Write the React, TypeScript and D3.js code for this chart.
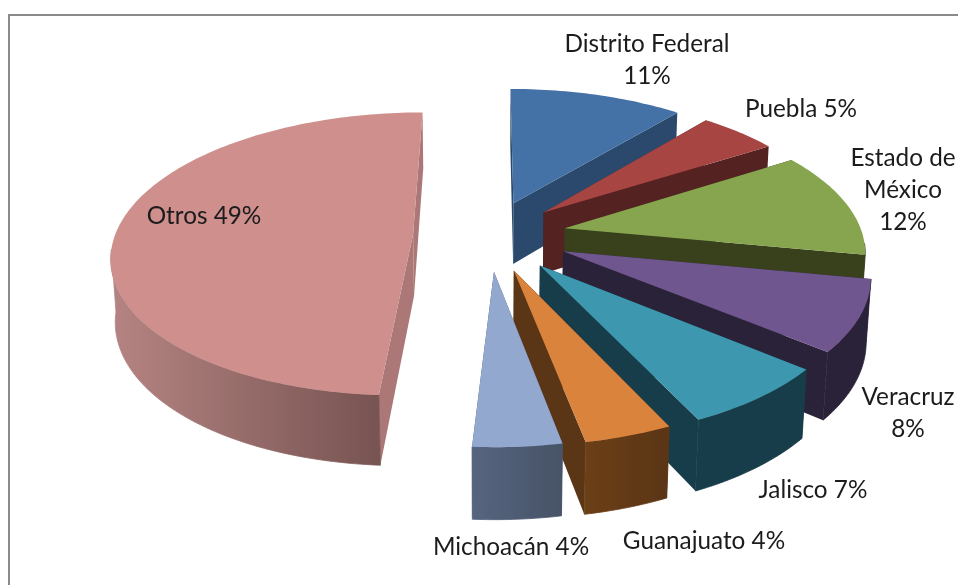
import React from "react";
import * as d3 from "d3";

const categories = ["Distrito Federal", "Puebla", "Estado de México", "Veracruz", "Jalisco", "Guanajuato", "Michoacán", "Otros"];
const values = [11, 5, 12, 8, 7, 4, 4, 49];
const explode = [0.25, 0.25, 0.26, 0.27, 0.27, 0.26, 0.255, 0.255];
const topColors = ["#4472a6", "#a64543", "#87a54f", "#70568e", "#3e97ae", "#d9833d", "#92a8cf", "#ce8f8d"];
const wallColors = ["#2b4a6c", "#552020", "#37401e", "#2c2238", "#193c48", "#5a3516", "#485668", "#ab7877"];
const outerStart = ["#2b4a6c", "#552020", "#37401e", "#2c2238", "#193c48", "#6b3f19", "#566580", "#b58482"];
const outerEnd = ["#2b4a6c", "#552020", "#37401e", "#2c2238", "#193c48", "#5a3516", "#465366", "#775452"];
const labelLines = [["Distrito Federal", "11%"], ["Puebla 5%"], ["Estado de", "México", "12%"], ["Veracruz", "8%"], ["Jalisco 7%"], ["Guanajuato 4%"], ["Michoacán 4%"], ["Otros 49%"]];
const labelX = [647, 801, 903, 908, 813, 704, 511, 204];
const labelY = [43, 108, 157, 396, 489, 540, 546, 215];

const W = 958, H = 585;
const CX = 489, CY = 235, RX = 298, RY = 139, DZ = 63, PERSP = 0.142, PERSP_Z = 0.012;

type P = [number, number];
const project = (x: number, y: number, z: number): P => {
  const s = 1 / (1 + y * PERSP - z * PERSP_Z);
  return [CX + RX * x * s, CY - RY * y * s - DZ * z * s];
};

const pie = d3.pie<number>().sort(null).startAngle(0).endAngle(2 * Math.PI);
const arcs = pie(values);
const line = d3.line<P>();

function slicePaths(a: d3.PieArcDatum<number>, i: number) {
  const mid = (a.startAngle + a.endAngle) / 2;
  const ox = explode[i] * Math.sin(mid), oy = explode[i] * Math.cos(mid);
  const rim = (t: number, z: number) => project(ox + Math.sin(t), oy + Math.cos(t), z);
  const apex = (z: number) => project(ox, oy, z);
  const n = Math.max(4, Math.ceil((a.endAngle - a.startAngle) / 0.02));
  const ts = d3.range(n + 1).map((k) => a.startAngle + (k / n) * (a.endAngle - a.startAngle));
  const front = ts.filter((t) => Math.cos(t) < -0.1);
  const topPts = ts.map((t) => rim(t, 0));
  const top = line([apex(0), ...topPts])! + "Z";
  const outer = front.length > 1
    ? line([...front.map((t) => rim(t, 0)), ...front.slice().reverse().map((t) => rim(t, -1))])! + "Z"
    : "";
  const r1 = line([apex(0), rim(a.startAngle, 0), rim(a.startAngle, -1), apex(-1)])! + "Z";
  const r2 = line([apex(0), rim(a.endAngle, 0), rim(a.endAngle, -1), apex(-1)])! + "Z";
  const xs = front.map((t) => rim(t, 0)[0]);
  return { top, outer, r1, r2, x0: d3.min(xs) ?? 0, x1: d3.max(xs) ?? 1 };
}

const order = [7, 0, 1, 2, 3, 4, 5, 6];

export default function App() {
  const paths = arcs.map(slicePaths);
  return (
    <svg width={W} height={H} viewBox={`0 0 ${W} ${H}`} style={{ position: "fixed", left: 0, top: 0, background: "#fff" }}>
      <defs>
        <filter id="soft" x="-5%" y="-5%" width="110%" height="110%">
          <feGaussianBlur stdDeviation="0.45" />
        </filter>
        {paths.map((p, i) => (
          <linearGradient key={i} id={`g${i}`} gradientUnits="userSpaceOnUse" x1={p.x0} x2={p.x1} y1={0} y2={0}>
            <stop offset="0" stopColor={outerStart[i]} />
            <stop offset="1" stopColor={outerEnd[i]} />
          </linearGradient>
        ))}
      </defs>
      <path d={`M9,${H}V15H${W}`} fill="none" stroke="#8a8a8a" strokeWidth={2} />
      <g filter="url(#soft)">
        {order.map((i) => (
          <g key={categories[i]}>
            <path d={paths[i].r1} fill={wallColors[i]} />
            <path d={paths[i].r2} fill={wallColors[i]} />
            <path d={paths[i].outer} fill={`url(#g${i})`} stroke={`url(#g${i})`} strokeWidth={0.8} />
            <path d={paths[i].top} fill={topColors[i]} />
          </g>
        ))}
      </g>
      <g filter="url(#soft)" fontFamily="Lato" fontSize={24.3} fill="#1a1a1a" textAnchor="middle">
        {labelLines.map((ls, i) =>
          ls.map((t, j) => (
            <text key={t} x={labelX[i]} y={labelY[i] + j * 32} dy="0.35em">{t}</text>
          ))
        )}
      </g>
    </svg>
  );
}
